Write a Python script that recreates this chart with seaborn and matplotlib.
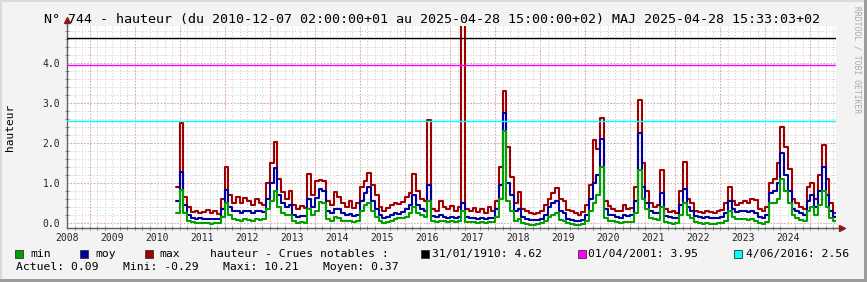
import numpy as np
import pandas as pd
import matplotlib
matplotlib.use("Agg")
import matplotlib.pyplot as plt
import seaborn as sns
from matplotlib.patches import Rectangle

# ---------------- data (monthly, from June 2010 to Jan 2025) ----------------
start_year = 2010 + 5 / 12

max_vals = [
    0.9, 2.5, 0.65, 0.4, 0.28, 0.3, 0.25,
    0.28, 0.33, 0.25, 0.3, 0.22, 0.6, 1.4, 0.7, 0.5, 0.65, 0.5, 0.62,
    0.55, 0.45, 0.6, 0.5, 0.45, 1.0, 1.5, 2.03, 1.1, 0.78, 0.6, 0.8,
    0.45, 0.35, 0.42, 0.38, 1.22, 0.7, 1.05, 1.07, 1.05, 0.55, 0.45, 0.78,
    0.65, 0.5, 0.4, 0.55, 0.38, 0.5, 0.9, 1.05, 1.25, 0.95, 0.7, 0.4,
    0.3, 0.38, 0.45, 0.5, 0.48, 0.52, 0.65, 0.75, 1.22, 0.8, 0.6, 0.55,
    2.57, 0.35, 0.3, 0.55, 0.4, 0.35, 0.42, 0.3, 0.4, 10.21, 0.35, 0.3,
    0.38, 0.28, 0.35, 0.25, 0.4, 0.3, 0.55, 1.4, 3.3, 1.9, 1.15, 0.5,
    0.78, 0.35, 0.3, 0.25, 0.22, 0.25, 0.3, 0.45, 0.6, 0.75, 0.87, 0.6,
    0.55, 0.32, 0.3, 0.25, 0.2, 0.28, 0.45, 0.95, 2.08, 1.85, 2.62, 0.55,
    0.42, 0.35, 0.3, 0.3, 0.45, 0.35, 0.38, 0.9, 3.07, 1.5, 0.8, 0.5,
    0.4, 0.45, 1.33, 0.35, 0.28, 0.3, 0.26, 0.8, 1.52, 0.6, 0.5, 0.3,
    0.28, 0.25, 0.3, 0.27, 0.25, 0.3, 0.32, 0.5, 0.9, 0.55, 0.45, 0.5,
    0.55, 0.5, 0.6, 0.58, 0.35, 0.3, 0.4, 1.0, 1.1, 1.5, 2.4, 1.9,
    1.35, 0.6, 0.5, 0.4, 0.35, 0.9, 1.0, 0.6, 1.2, 1.95, 1.1, 0.5,
    0.25,
]
moy_vals = [
    0.55, 1.28, 0.45, 0.2, 0.12, 0.11, 0.12,
    0.10, 0.11, 0.10, 0.10, 0.10, 0.35, 0.82, 0.4, 0.3, 0.3, 0.25, 0.3,
    0.3, 0.25, 0.3, 0.3, 0.28, 0.6, 1.0, 1.37, 0.7, 0.5, 0.4, 0.45,
    0.2, 0.15, 0.18, 0.17, 0.6, 0.4, 0.62, 0.85, 0.8, 0.3, 0.25, 0.35,
    0.35, 0.25, 0.2, 0.22, 0.18, 0.2, 0.55, 0.75, 0.9, 0.55, 0.35, 0.2,
    0.12, 0.15, 0.2, 0.25, 0.24, 0.27, 0.35, 0.45, 0.7, 0.45, 0.35, 0.3,
    0.95, 0.18, 0.15, 0.2, 0.15, 0.14, 0.15, 0.13, 0.16, 0.5, 0.15, 0.12,
    0.12, 0.1, 0.12, 0.1, 0.13, 0.12, 0.35, 0.95, 2.75, 1.0, 0.7, 0.3,
    0.35, 0.15, 0.1, 0.08, 0.07, 0.08, 0.1, 0.2, 0.4, 0.5, 0.55, 0.3,
    0.25, 0.1, 0.08, 0.06, 0.06, 0.08, 0.2, 0.6, 1.0, 1.2, 2.1, 0.35,
    0.2, 0.2, 0.15, 0.14, 0.2, 0.18, 0.2, 0.55, 2.25, 0.9, 0.5, 0.3,
    0.25, 0.25, 0.75, 0.18, 0.15, 0.14, 0.13, 0.45, 0.85, 0.4, 0.3, 0.18,
    0.15, 0.12, 0.15, 0.13, 0.12, 0.14, 0.15, 0.25, 0.55, 0.35, 0.28, 0.3,
    0.3, 0.28, 0.3, 0.25, 0.15, 0.13, 0.2, 0.75, 0.8, 1.0, 1.75, 1.2,
    0.8, 0.35, 0.3, 0.25, 0.2, 0.55, 0.7, 0.4, 0.8, 1.4, 0.7, 0.3,
    0.15,
]
min_vals = [
    0.25, 0.82, 0.25, 0.06, 0.02, 0.0, 0.01,
    0.0, 0.01, -0.01, 0.0, 0.0, 0.15, 0.5, 0.2, 0.1, 0.08, 0.05, 0.1,
    0.08, 0.06, 0.1, 0.08, 0.1, 0.35, 0.55, 0.8, 0.4, 0.25, 0.2, 0.2,
    0.05, 0.0, 0.02, 0.0, 0.35, 0.2, 0.3, 0.54, 0.5, 0.1, 0.05, 0.15,
    0.12, 0.06, 0.05, 0.06, 0.04, 0.05, 0.3, 0.45, 0.5, 0.3, 0.15, 0.05,
    0.0, 0.02, 0.05, 0.1, 0.12, 0.12, 0.15, 0.25, 0.4, 0.25, 0.2, 0.15,
    0.55, 0.05, 0.04, 0.05, 0.05, 0.04, 0.05, 0.03, 0.05, 0.3, 0.03, 0.02,
    0.02, 0.0, 0.02, 0.0, 0.02, 0.03, 0.15, 0.6, 2.3, 0.55, 0.3, 0.05,
    0.1, 0.0, -0.02, -0.05, -0.05, -0.03, 0.0, 0.05, 0.15, 0.2, 0.25, 0.08,
    0.05, 0.0, -0.03, -0.05, -0.05, -0.02, 0.05, 0.3, 0.5, 0.7, 1.4, 0.12,
    0.05, 0.06, 0.02, 0.0, 0.03, 0.02, 0.03, 0.25, 1.33, 0.6, 0.35, 0.12,
    0.1, 0.08, 0.4, 0.02, 0.0, -0.01, 0.0, 0.2, 0.5, 0.2, 0.12, 0.03,
    0.0, -0.02, 0.0, -0.01, -0.02, 0.0, 0.01, 0.05, 0.3, 0.15, 0.1, 0.1,
    0.1, 0.08, 0.1, 0.05, 0.0, -0.02, 0.03, 0.5, 0.5, 0.6, 1.1, 0.8,
    0.5, 0.2, 0.12, 0.08, 0.05, 0.3, 0.4, 0.2, 0.45, 0.8, 0.4, 0.12,
    0.05,
]

series_names = ["min", "moy", "max"]
series_colors = ["#00A000", "#0000A0", "#A00000"]

crue_labels = ["31/01/1910: 4.62", "01/04/2001: 3.95", "4/06/2016: 2.56"]
crue_values = [4.62, 3.95, 2.56]
crue_colors = ["#000000", "#FF00FF", "#00FFFF"]

year_labels = [str(y) for y in range(2008, 2025)]
y_tick_values = [0.0, 1.0, 2.0, 3.0, 4.0]

stats_labels = ["Actuel: 0.09", "Mini: -0.29", "Maxi: 10.21", "Moyen: 0.37"]
title = ("N° 744 - hauteur (du 2010-12-07 02:00:00+01 au 2025-04-28 15:00:00+02) "
         "MAJ 2025-04-28 15:33:03+02")

# ---------------- build long table ----------------
n = len(max_vals)
t = start_year + np.arange(n + 1) / 12.0
frames = []
for name, vals in zip(series_names, [min_vals, moy_vals, max_vals]):
    v = list(vals) + [vals[-1]]
    frames.append(pd.DataFrame({"t": t, "v": v, "series": name}))
df = pd.concat(frames, ignore_index=True)

# ---------------- figure ----------------
sns.set_theme(style="white")
plt.rcParams["font.family"] = ["DejaVu Sans Mono", "DejaVu Sans"]

W, H = 867, 282
fig = plt.figure(figsize=(W / 100, H / 100), dpi=100, facecolor="#F3F3F3")

ax_l, ax_r, ax_t, ax_b = 66.7, 836.0, 26.0, 228.3
ax = fig.add_axes([ax_l / W, 1 - ax_b / H, (ax_r - ax_l) / W, (ax_b - ax_t) / H])
ax.set_facecolor("white")

px_per_year = 45.06
x0 = 2008 - (67 - ax_l) / px_per_year
x1 = 2008 + (ax_r - 67) / px_per_year
ax.set_xlim(x0, x1)
ax.set_ylim(-0.125, 4.93)

# grid
for k in range(0, 110):
    gx = 2008 + k / 6
    if x0 <= gx <= x1:
        ax.axvline(gx, color="#C8C8C8", lw=0.7, ls=(0, (1, 2)), zorder=0)
for k in range(-1, 26):
    gy = k * 0.2
    ax.axhline(gy, color="#C8C8C8", lw=0.7, ls=(0, (1, 2)), zorder=0)
for y in range(2008, 2026):
    if x0 <= y + 0.5 <= x1:
        ax.axvline(y + 0.5, color="#E59A9A", lw=0.8, ls=(0, (1, 2)), zorder=0.5)
for gy in y_tick_values:
    ax.axhline(gy, color="#E59A9A", lw=0.8, ls=(0, (1, 2)), zorder=0.5)

sns.lineplot(data=df, x="t", y="v", hue="series",
             hue_order=["max", "moy", "min"],
             palette=dict(zip(series_names, series_colors)),
             estimator=None, sort=False, drawstyle="steps-post",
             linewidth=1.5, legend=False, ax=ax, zorder=2)

for val, col in zip(crue_values, crue_colors):
    ax.axhline(val, color=col, lw=1.0, zorder=3)

# ticks
ax.set_xticks([int(s) for s in year_labels])
ax.set_xticklabels(year_labels)
ax.set_xticks([2008 + k / 6 for k in range(0, 103) if x0 <= 2008 + k / 6 <= x1], minor=True)
ax.set_yticks(y_tick_values)
ax.set_yticklabels([f"{v:.1f}" for v in y_tick_values])
ax.set_yticks([k * 0.2 for k in range(0, 25)], minor=True)
ax.tick_params(axis="x", which="major", length=0, pad=3.5, labelsize=7)
ax.tick_params(axis="y", which="major", length=0, pad=4.8, labelsize=7)
ax.tick_params(which="minor", direction="inout", length=3, width=0.6, color="#777777")
ax.tick_params(which="minor", bottom=True, left=True)
ax.set_xlabel("")
ax.set_ylabel("")

for s in ["top", "right"]:
    ax.spines[s].set_visible(False)
for s in ["left", "bottom"]:
    ax.spines[s].set_color("#606060")
    ax.spines[s].set_linewidth(1.0)

# axis extensions and arrows (figure pixels)
def fx(px):
    return px / W

def fy(py):
    return 1 - py / H

fig.add_artist(plt.Line2D([fx(ax_l), fx(ax_l)], [fy(ax_t), fy(21)], color="#606060", lw=1.0))
fig.add_artist(plt.Line2D([fx(ax_r), fx(841)], [fy(ax_b), fy(ax_b)], color="#606060", lw=1.0))
fig.add_artist(plt.Line2D([fx(ax_l)], [fy(20)], marker="^", color="#8B1A1A", ms=4, lw=0))
fig.add_artist(plt.Line2D([fx(842)], [fy(ax_b)], marker=">", color="#8B1A1A", ms=4, lw=0))

# frame shading
fig.add_artist(Rectangle((0, 0), 1, 3 / H, transform=fig.transFigure, color="#9C9C9C", lw=0))
fig.add_artist(Rectangle((1 - 3 / W, 0), 3 / W, 1, transform=fig.transFigure, color="#9C9C9C", lw=0))
fig.add_artist(Rectangle((0, 1 - 2 / H), 1 - 3 / W, 2 / H, transform=fig.transFigure, color="#DADADA", lw=0))
fig.add_artist(Rectangle((0, 3 / H), 2 / W, 1 - 5 / H, transform=fig.transFigure, color="#DADADA", lw=0))

# title and labels
fig.text(fx(432), fy(19), title, ha="center", va="center", fontsize=9.6, color="black")
fig.text(fx(10), fy(127), "hauteur", rotation=90, ha="center", va="center", fontsize=8, color="black")
fig.text(fx(857), fy(60), "RRDTOOL / TOBI OETIKER", rotation=270, ha="center", va="center",
         fontsize=5.8, color="#AAAAAA")

# legend row 1
row1 = fy(254)
sq = 8
legend_items = [
    (15, series_colors[0], series_names[0], 30),
    (80, series_colors[1], series_names[1], 95),
    (145, series_colors[2], series_names[2], 159),
    (421, crue_colors[0], crue_labels[0], 432),
    (578, crue_colors[1], crue_labels[1], 588),
    (734, crue_colors[2], crue_labels[2], 746),
]
for sx, col, lab, tx in legend_items:
    fig.add_artist(Rectangle((fx(sx), fy(254 + sq / 2)), sq / W, sq / H,
                             transform=fig.transFigure, facecolor=col,
                             edgecolor="#333333", lw=0.6))
    fig.text(fx(tx), row1, lab, ha="left", va="center", fontsize=8.2, color="black")
fig.text(fx(210), row1, "hauteur - Crues notables :", ha="left", va="center",
         fontsize=8.2, color="black")

# stats row
row2 = fy(267.5)
for lab, sx in zip(stats_labels, [16, 122.7, 223, 323]):
    fig.text(fx(sx), row2, lab, ha="left", va="center", fontsize=8.2, color="black")

fig.savefig("out.png", dpi=100, facecolor=fig.get_facecolor())
